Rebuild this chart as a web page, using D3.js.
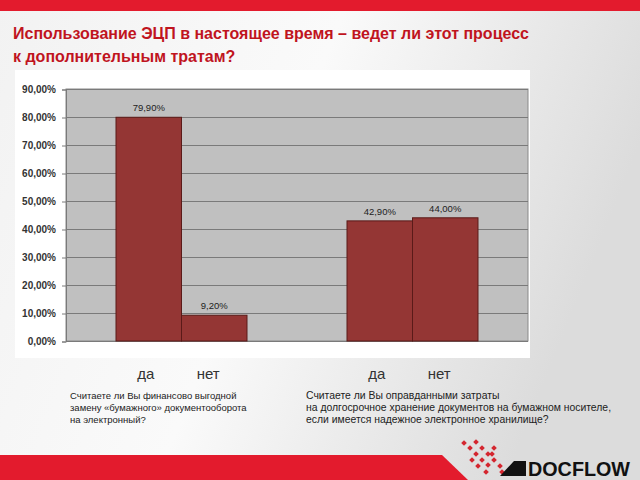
<!DOCTYPE html>
<html><head><meta charset="utf-8">
<script src="https://cdn.jsdelivr.net/npm/d3@7"></script>
<style>body{margin:0;}svg{display:block;}</style>
</head><body>
<svg id="c" width="640" height="480"></svg>
<script>
const groups = ["g1", "g2"];
const answers = ["да", "нет"];
const values = [[79.9, 9.2], [42.9, 44.0]];
const yTicks = [0, 10, 20, 30, 40, 50, 60, 70, 80, 90];
const titleLines = ["Использование ЭЦП в настоящее время – ведет ли этот процесс", "к дополнительным тратам?"];
const questions = [
  ["Считаете ли Вы финансово выгодной", "замену «бумажного» документооборота", "на электронный?"],
  ["Считаете ли Вы оправданными затраты", "на долгосрочное хранение документов на бумажном носителе,", "если имеется надежное электронное хранилище?"]
];

const svg = d3.select("#c");
const defs = svg.append("defs");
const bg = defs.append("linearGradient").attr("id","bg").attr("x1","0").attr("x2","1").attr("y1","0").attr("y2","0.3");
bg.append("stop").attr("offset","0").attr("stop-color","#f2f2f2");
bg.append("stop").attr("offset","0.5").attr("stop-color","#fafafa");
bg.append("stop").attr("offset","1").attr("stop-color","#dcdcdc");
svg.append("rect").attr("width",640).attr("height",480).attr("fill","url(#bg)");
svg.append("rect").attr("width",640).attr("height",11).attr("fill","#e31b2d");

svg.append("g").selectAll("text").data(titleLines).join("text")
  .attr("x",13).attr("y",(d,i)=>39+i*23)
  .attr("font-family","Arial, Liberation Sans, sans-serif").attr("font-weight","bold")
  .attr("font-size",16).attr("fill","#c0141e").text(d=>d);

// chart box
svg.append("rect").attr("x",15).attr("y",70).attr("width",515).attr("height",288).attr("fill","#ffffff");

const plotL = 66, plotR = 528, plotT = 89, plotB = 341;
const y = d3.scaleLinear().domain([0,90]).range([plotB, plotT]);
const x0 = d3.scaleBand().domain(groups).range([plotL, plotR]).paddingInner(0.433).paddingOuter(0.2165);
const x1 = d3.scaleBand().domain(answers).range([0, x0.bandwidth()]);

svg.append("rect").attr("x",plotL).attr("y",plotT).attr("width",plotR-plotL).attr("height",plotB-plotT)
  .attr("fill","#c0c0c0").attr("stroke","#8a8a8a").attr("stroke-width",1);

svg.append("g").selectAll("line").data(yTicks).join("line")
  .attr("x1",plotL).attr("x2",plotR).attr("y1",d=>y(d)+0.5).attr("y2",d=>y(d)+0.5)
  .attr("stroke","#7a7a7a").attr("stroke-width",1);

const fmt = d => d.toFixed(2).replace(".", ",") + "%";
const ya = svg.append("g").attr("transform",`translate(${plotL},0.5)`)
  .call(d3.axisLeft(y).tickValues(yTicks).tickFormat(fmt).tickSize(4).tickPadding(6));
ya.select(".domain").attr("stroke","#7a7a7a");
ya.selectAll(".tick line").attr("stroke","#7a7a7a");
ya.selectAll("text").attr("font-family","Arial, Liberation Sans, sans-serif").attr("font-size",10)
  .attr("font-weight","bold").attr("fill","#333");

const gg = svg.append("g").selectAll("g").data(groups).join("g")
  .attr("transform",d=>`translate(${x0(d)},0)`);
gg.selectAll("rect").data((d,i)=>values[i].map((v,j)=>({a:answers[j],v}))).join("rect")
  .attr("x",d=>x1(d.a)).attr("width",x1.bandwidth())
  .attr("y",d=>y(d.v)).attr("height",d=>plotB-y(d.v))
  .attr("fill","#943634").attr("stroke","#5a1a18").attr("stroke-width",1);
gg.selectAll("text.v").data((d,i)=>values[i].map((v,j)=>({a:answers[j],v}))).join("text")
  .attr("class","v").attr("x",d=>x1(d.a)+x1.bandwidth()/2).attr("y",d=>y(d.v)-6)
  .attr("text-anchor","middle").attr("font-family","Arial, Liberation Sans, sans-serif")
  .attr("font-size",9.5).attr("fill","#222").text(d=>fmt(d.v));

// category labels
gg.selectAll("text.c").data(answers).join("text").attr("class","c")
  .attr("x",d=>x1(d)+x1.bandwidth()/2 + (d==="да"?-3:-6)).attr("y",379)
  .attr("text-anchor","middle").attr("font-family","Arial, Liberation Sans, sans-serif")
  .attr("font-size",15).attr("fill","#333").text(d=>d);

// questions
const qx = [70, 306];
const qfs = [9.5, 10.4];
svg.append("g").selectAll("g").data(questions).join("g")
  .attr("transform",(d,i)=>`translate(${qx[i]},0)`)
  .attr("font-size",(d,i)=>qfs[i])
  .selectAll("text").data(d=>d).join("text")
  .attr("x",0).attr("y",(d,i)=>399+i*12)
  .attr("font-family","Arial, Liberation Sans, sans-serif")
  .attr("fill","#222").text(d=>d);

// bottom band and logo
svg.append("path").attr("d","M0,455 L442,455 L468,480 L0,480 Z").attr("fill","#e31b2d");
const sq = [[462,441],[468,446],[474,452],[480,446],[486,452],[474,440],[480,458],[492,458],[486,463],[498,464],[470,458],[476,464],[492,446],[484,470],[500,470],[490,452]];
svg.append("g").selectAll("rect").data(sq).join("rect")
  .attr("x",d=>d[0]).attr("y",d=>d[1]).attr("width",4).attr("height",4)
  .attr("fill","#d4262f").attr("transform",d=>`rotate(45,${d[0]+2},${d[1]+2})`);
svg.append("path").attr("d","M500,476 L514,461 L526,461 L526,476 Z").attr("fill","#111");
svg.append("text").attr("x",528).attr("y",476).attr("font-family","Liberation Sans Narrow, Arial Narrow, Arial, sans-serif")
  .attr("font-weight","bold").attr("font-size",21).attr("fill","#111")
  .attr("textLength",102).attr("lengthAdjust","spacingAndGlyphs").text("DOCFLOW");
</script>
</body></html>
